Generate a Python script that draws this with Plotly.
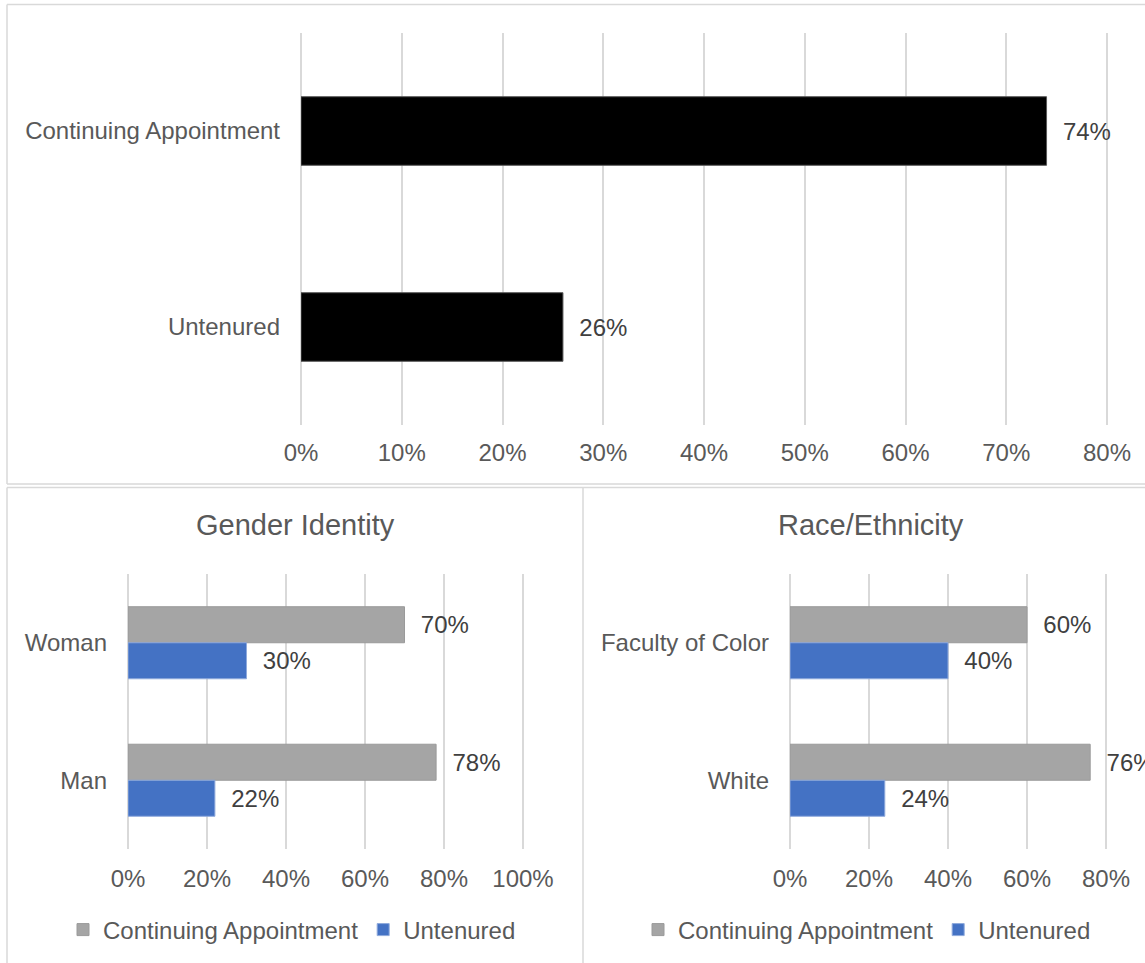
import plotly.graph_objects as go

W, H = 1145, 963

# ---------------- data ----------------
top_categories = ["Continuing Appointment", "Untenured"]
top_values = [74, 26]

gender_categories = ["Woman", "Man"]
gender_continuing = [70, 78]
gender_untenured = [30, 22]

race_categories = ["Faculty of Color", "White"]
race_continuing = [60, 76]
race_untenured = [40, 24]

series_names = ["Continuing Appointment", "Untenured"]
panel_titles = ["Gender Identity", "Race/Ethnicity"]

top_tickvals = [0, 10, 20, 30, 40, 50, 60, 70, 80]
bottom_tickvals = [0, 20, 40, 60, 80, 100]

# ---------------- style ----------------
FONT = "Arial, Liberation Sans, sans-serif"
TICK_COLOR = "#595959"
LABEL_COLOR = "#404040"
GRID = "#d9d9d9"
GRAY = "#a5a5a5"
BLUE = "#4472c4"
BLACK = "#000000"


def px(x):
    return x / W


def py(y):
    return 1 - y / H


def pct(vals):
    return [f"{v}%" for v in vals]


fig = go.Figure()

label_tpl = "\u00a0\u00a0%{text}"
label_font = dict(size=24, color=LABEL_COLOR, family=FONT)

# top chart
fig.add_trace(go.Bar(
    y=top_categories, x=top_values, orientation="h", text=pct(top_values),
    marker=dict(color=BLACK, line=dict(color="#595959", width=1)),
    width=0.35, texttemplate=label_tpl, textposition="outside", textfont=label_font,
    cliponaxis=False, constraintext="none", showlegend=False,
    xaxis="x", yaxis="y",
))

BW = 0.262
# gender chart
fig.add_trace(go.Bar(
    y=gender_categories, x=gender_continuing, orientation="h", name=series_names[0],
    text=pct(gender_continuing),
    marker=dict(color=GRAY, line=dict(color="#9a9a9a", width=1)),
    width=BW, offset=-BW, texttemplate=label_tpl, textposition="outside", textfont=label_font,
    cliponaxis=False, constraintext="none", xaxis="x2", yaxis="y2", legend="legend",
))
fig.add_trace(go.Bar(
    y=gender_categories, x=gender_untenured, orientation="h", name=series_names[1],
    text=pct(gender_untenured),
    marker=dict(color=BLUE, line=dict(color="#8faadc", width=1)),
    width=BW, offset=0, texttemplate=label_tpl, textposition="outside", textfont=label_font,
    cliponaxis=False, constraintext="none", xaxis="x2", yaxis="y2", legend="legend",
))
# race chart
fig.add_trace(go.Bar(
    y=race_categories, x=race_continuing, orientation="h", name=series_names[0],
    text=pct(race_continuing),
    marker=dict(color=GRAY, line=dict(color="#9a9a9a", width=1)),
    width=BW, offset=-BW, texttemplate=label_tpl, textposition="outside", textfont=label_font,
    cliponaxis=False, constraintext="none", xaxis="x3", yaxis="y3", legend="legend2",
))
fig.add_trace(go.Bar(
    y=race_categories, x=race_untenured, orientation="h", name=series_names[1],
    text=pct(race_untenured),
    marker=dict(color=BLUE, line=dict(color="#8faadc", width=1)),
    width=BW, offset=0, texttemplate=label_tpl, textposition="outside", textfont=label_font,
    cliponaxis=False, constraintext="none", xaxis="x3", yaxis="y3", legend="legend2",
))

xcommon = dict(
    showgrid=True, gridcolor=GRID, gridwidth=1.5,
    zeroline=True, zerolinecolor=GRID, zerolinewidth=1.5,
    showline=False, ticks="", automargin=False,
    tickfont=dict(size=24, color=TICK_COLOR, family=FONT),
    fixedrange=True, tickmode="array",
)
ycommon = dict(
    type="category", autorange="reversed", showgrid=False, zeroline=False,
    showline=False, ticks="", automargin=False,
    tickfont=dict(size=24, color=TICK_COLOR, family=FONT),
    ticklabelstandoff=20, fixedrange=True,
)

u_top = 10.075  # px per percent
u_bot = 3.95

border = dict(color=GRID, width=1.5)

fig.update_layout(
    template="none",
    width=W, height=H,
    margin=dict(l=0, r=0, t=0, b=0, pad=0),
    paper_bgcolor="white", plot_bgcolor="white",
    font=dict(family=FONT, color=TICK_COLOR),
    barmode="overlay",
    xaxis=dict(xcommon, domain=[px(301), px(301 + 80.2 * u_top)], range=[0, 80.2],
               tickvals=top_tickvals, ticktext=pct(top_tickvals), anchor="y",
               ticklabelstandoff=11),
    yaxis=dict(ycommon, domain=[py(425), py(33)], categoryarray=top_categories, anchor="x"),
    xaxis2=dict(xcommon, domain=[px(128), px(128 + 100.3 * u_bot)], range=[0, 100.3],
                tickvals=bottom_tickvals, ticktext=pct(bottom_tickvals), anchor="y2",
                ticklabelstandoff=13),
    yaxis2=dict(ycommon, domain=[py(849), py(574)], categoryarray=gender_categories, anchor="x2"),
    xaxis3=dict(xcommon, domain=[px(790), 1], range=[0, (W - 790) / u_bot],
                tickvals=bottom_tickvals, ticktext=pct(bottom_tickvals), anchor="y3",
                ticklabelstandoff=13),
    yaxis3=dict(ycommon, domain=[py(849), py(574)], categoryarray=race_categories, anchor="x3"),
    legend=dict(orientation="h", x=px(292), y=py(930), xanchor="center", yanchor="middle",
                font=dict(size=24, color=TICK_COLOR, family=FONT), bgcolor="rgba(0,0,0,0)",
                itemwidth=30, tracegroupgap=0),
    legend2=dict(orientation="h", x=px(867), y=py(930), xanchor="center", yanchor="middle",
                 font=dict(size=24, color=TICK_COLOR, family=FONT), bgcolor="rgba(0,0,0,0)",
                 itemwidth=30, tracegroupgap=0),
    annotations=[
        dict(text=panel_titles[0], x=px(295), y=py(525), xref="paper", yref="paper",
             showarrow=False, font=dict(size=29, color=TICK_COLOR, family=FONT),
             xanchor="center", yanchor="middle"),
        dict(text=panel_titles[1], x=px(871), y=py(525), xref="paper", yref="paper",
             showarrow=False, font=dict(size=29, color=TICK_COLOR, family=FONT),
             xanchor="center", yanchor="middle"),
    ],
    shapes=[
        # top panel frame
        dict(type="line", xref="paper", yref="paper", x0=px(7), x1=1, y0=py(4.5), y1=py(4.5), line=border),
        dict(type="line", xref="paper", yref="paper", x0=px(7), x1=1, y0=py(484), y1=py(484), line=border),
        dict(type="line", xref="paper", yref="paper", x0=px(7), x1=px(7), y0=py(484), y1=py(4.5), line=border),
        # bottom panels frame
        dict(type="line", xref="paper", yref="paper", x0=px(7), x1=1, y0=py(487.5), y1=py(487.5), line=border),
        dict(type="line", xref="paper", yref="paper", x0=px(7), x1=px(7), y0=0, y1=py(487.5), line=border),
        dict(type="line", xref="paper", yref="paper", x0=px(583), x1=px(583), y0=0, y1=py(487.5), line=border),
    ],
)

fig.write_html("out.html")
